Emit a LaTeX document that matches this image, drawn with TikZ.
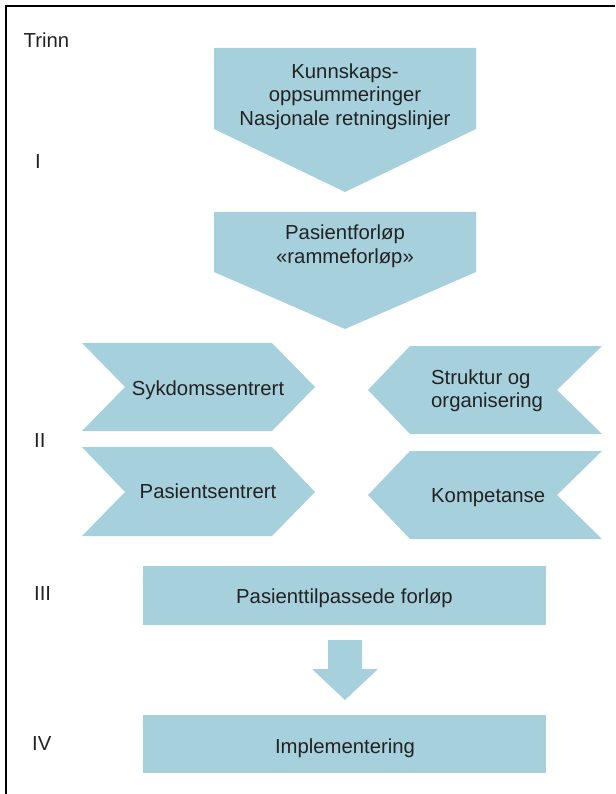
\documentclass[tikz,border=0pt]{standalone}
\usepackage{fontspec}
\setmainfont{Liberation Sans}
\definecolor{boxfill}{HTML}{A7D0DD}
\definecolor{txt}{HTML}{222222}
\begin{document}
\begin{tikzpicture}[x=1pt,y=-1pt,
  shapefill/.style={fill=boxfill},
  lbl/.style={font=\fontsize{20.3}{23.5}\selectfont,text=txt,inner sep=0pt},
  frameline/.style={line width=2pt,draw=black}]
\useasboundingbox (0,0) rectangle (615,794);
% frame
\draw[frameline] (6,794) -- (6,6) -- (615,6);
% step labels
\node[lbl,anchor=base west] (trinn) at (23.5,48) {Trinn};
\node[lbl,anchor=base west] (s1) at (35,169) {I};
\node[lbl,anchor=base west] (s2) at (34,447) {II};
\node[lbl,anchor=base west] (s3) at (34,600) {III};
\node[lbl,anchor=base west] (s4) at (32,750) {IV};
% step I shapes
\fill[shapefill] (214,48) -- (476,48) -- (476,129) -- (345,192) -- (214,129) -- cycle;
\node[lbl,align=center] (kunn) at (345,96.5) {Kunnskaps-\\oppsummeringer\\Nasjonale retningslinjer};
\fill[shapefill] (214,212) -- (476,212) -- (476,272) -- (345,329) -- (214,272) -- cycle;
\node[lbl,align=center,font=\fontsize{20.3}{24}\selectfont] (pforl) at (345,246) {Pasientforløp\\«rammeforløp»};
% step II chevrons
\fill[shapefill] (82,343) -- (272,343) -- (315,387) -- (272,431) -- (82,431) -- (125,387) -- cycle;
\node[lbl,anchor=base] (syk) at (208,395) {Sykdomssentrert};
\fill[shapefill] (82,447) -- (272,447) -- (315,492) -- (272,536) -- (82,536) -- (125,492) -- cycle;
\node[lbl,anchor=base] (pas) at (208,498) {Pasientsentrert};
\fill[shapefill] (602,346) -- (410,346) -- (368,390) -- (410,434) -- (602,434) -- (557,390) -- cycle;
\node[lbl,align=left,anchor=west,font=\fontsize{20.3}{23}\selectfont] (strukt) at (431,390.4) {Struktur og\\organisering};
\fill[shapefill] (602,451) -- (410,451) -- (368,495) -- (410,539) -- (602,539) -- (557,495) -- cycle;
\node[lbl,anchor=base west] (komp) at (431,502) {Kompetanse};
% step III
\fill[shapefill] (143,566) rectangle (546,625);
\node[lbl,anchor=base] (tilp) at (344.5,603) {Pasienttilpassede forløp};
\fill[shapefill] (328,640) -- (362,640) -- (362,669) -- (378,669) -- (345,700) -- (312,669) -- (328,669) -- cycle;
% step IV
\fill[shapefill] (143,715) rectangle (546,773);
\node[lbl,anchor=base] (impl) at (345,753) {Implementering};
\end{tikzpicture}
\end{document}
